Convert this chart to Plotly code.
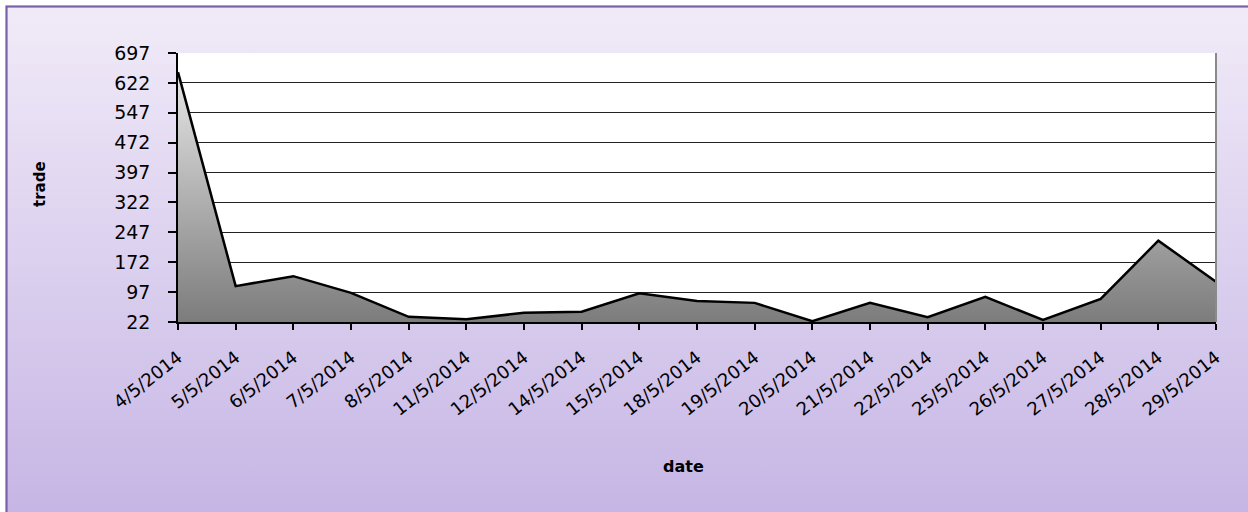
import plotly.graph_objects as go
import urllib.parse

dates = ["4/5/2014", "5/5/2014", "6/5/2014", "7/5/2014", "8/5/2014", "11/5/2014",
         "12/5/2014", "14/5/2014", "15/5/2014", "18/5/2014", "19/5/2014", "20/5/2014",
         "21/5/2014", "22/5/2014", "25/5/2014", "26/5/2014", "27/5/2014", "28/5/2014",
         "29/5/2014"]
trade = [649, 112, 137, 95, 35, 29, 45, 48, 94, 75, 70, 24, 70, 34, 85, 27, 80, 226, 123]
y_ticks = [22, 97, 172, 247, 322, 397, 472, 547, 622, 697]

W, H = 1248, 512
L, R, T, B = 178, 32, 53, 190
pw, ph = W - L - R, H - T - B

svg = (
    f'<svg xmlns="http://www.w3.org/2000/svg" width="{W}" height="{H}" viewBox="0 0 {W} {H}" preserveAspectRatio="none">'
    '<defs><linearGradient id="g" x1="0" y1="0" x2="0" y2="1">'
    '<stop offset="0" stop-color="#f1ebf8"/><stop offset="1" stop-color="#c4b3e4"/>'
    '</linearGradient></defs>'
    f'<rect x="0" y="0" width="{W}" height="{H}" fill="white"/>'
    f'<rect x="6.5" y="6.5" width="{W+20}" height="{H+20}" fill="url(#g)" stroke="#7a60a8" stroke-width="2.2"/>'
    '</svg>'
)
src = "data:image/svg+xml;charset=utf-8," + urllib.parse.quote(svg)

fig = go.Figure()
fig.add_trace(go.Scatter(
    x=dates, y=trade, mode="lines",
    line=dict(color="black", width=2.5),
    fill="tozeroy",
    fillgradient=dict(type="vertical", start=22, stop=649,
                      colorscale=[[0, "#7c7c7c"], [1, "#e6e6e6"]]),
    showlegend=False, hoverinfo="skip",
))

font = "DejaVu Sans"
fig.update_layout(
    width=W, height=H,
    margin=dict(l=L, r=R, t=T, b=B),
    paper_bgcolor="rgba(0,0,0,0)",
    plot_bgcolor="white",
    images=[dict(source=src, xref="paper", yref="paper",
                 x=-L / pw, y=1 + T / ph, sizex=W / pw, sizey=H / ph,
                 xanchor="left", yanchor="top", sizing="stretch", layer="below")],
    xaxis=dict(
        type="category", range=[0, len(dates) - 1],
        tickangle=-38, ticks="outside", ticklen=6, tickcolor="black", tickwidth=1.5,
        ticklabelstandoff=10,
        showgrid=False, showline=True, linecolor="black", linewidth=2,
        tickfont=dict(family=font, size=18, color="black"),
        zeroline=False,
    ),
    yaxis=dict(
        range=[22, 697], tickvals=y_ticks, ticktext=[str(v) for v in y_ticks],
        ticks="outside", ticklen=8, tickcolor="black", tickwidth=1.5,
        ticklabelstandoff=14,
        showgrid=True, gridcolor="#222222", gridwidth=1,
        showline=True, linecolor="black", linewidth=1.5,
        tickfont=dict(family=font, size=19, color="black"),
        zeroline=False,
    ),
    annotations=[
        dict(text="<b>date</b>", xref="paper", yref="paper",
             x=(683 - L) / pw, y=(H - B - 467) / ph, xanchor="center", yanchor="middle",
             showarrow=False, font=dict(family=font, size=16, color="black")),
        dict(text="<b>trade</b>", xref="paper", yref="paper", textangle=-90,
             x=(40 - L) / pw, y=(H - B - 184) / ph, xanchor="center", yanchor="middle",
             showarrow=False, font=dict(family=font, size=15, color="black")),
    ],
    shapes=[
        dict(type="rect", xref="paper", yref="paper", x0=0, x1=1, y0=0, y1=1,
             fillcolor="white", line=dict(width=0), layer="below"),
        dict(type="line", xref="paper", yref="paper", x0=1, x1=1, y0=0, y1=1,
             line=dict(color="#8a8a8a", width=2)),
    ],
)

fig.write_html("out.html", config={"displayModeBar": False},
               post_script="document.body.style.margin='0';")
